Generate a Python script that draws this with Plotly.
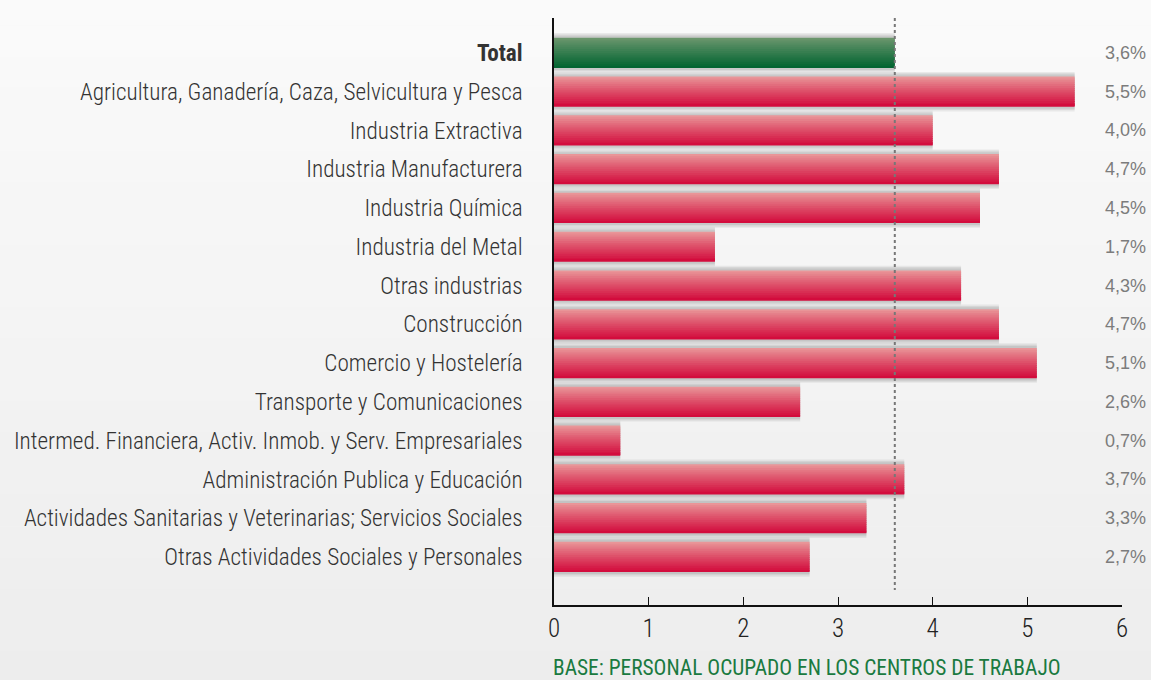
import plotly.graph_objects as go

categories = [
    "Total",
    "Agricultura, Ganadería, Caza, Selvicultura y Pesca",
    "Industria Extractiva",
    "Industria Manufacturera",
    "Industria Química",
    "Industria del Metal",
    "Otras industrias",
    "Construcción",
    "Comercio y Hostelería",
    "Transporte y Comunicaciones",
    "Intermed. Financiera, Activ. Inmob. y Serv. Empresariales",
    "Administración Publica y Educación",
    "Actividades Sanitarias y Veterinarias; Servicios Sociales",
    "Otras Actividades Sociales y Personales",
]
values = [3.6, 5.5, 4.0, 4.7, 4.5, 1.7, 4.3, 4.7, 5.1, 2.6, 0.7, 3.7, 3.3, 2.7]
value_labels = ["3,6%", "5,5%", "4,0%", "4,7%", "4,5%", "1,7%", "4,3%", "4,7%",
                "5,1%", "2,6%", "0,7%", "3,7%", "3,3%", "2,7%"]
total_value = 3.6
x_ticks = [0, 1, 2, 3, 4, 5, 6]
footer = "BASE: PERSONAL OCUPADO EN LOS CENTROS DE TRABAJO"

FONT = "Roboto Condensed, Liberation Sans Narrow, Arial Narrow, sans-serif"
VFONT = "Liberation Sans, Arial, sans-serif"

ypos = list(range(len(categories)))
fig = go.Figure()


def lerp(c1, c2, t):
    return "rgb(%d,%d,%d)" % tuple(round(a + (b - a) * t) for a, b in zip(c1, c2))


red_top, red_bot = (234, 156, 156), (210, 8, 58)
grn_top, grn_bot = (112, 152, 112), (0, 100, 48)

# soft shadow (layered)
for w, a in [(1.02, 0.12), (0.95, 0.14), (0.88, 0.16)]:
    fig.add_trace(go.Bar(
        x=values, y=ypos, orientation="h", width=w,
        marker=dict(color="rgba(120,120,120,%.2f)" % a, line=dict(width=0)),
        hoverinfo="skip", showlegend=False,
    ))

BW = 0.78
N = 16
for k in range(N):
    t = (k + 0.5) / N
    t2 = t ** 0.9
    cols = [lerp(grn_top, grn_bot, t2) if i == 0 else lerp(red_top, red_bot, t2)
            for i in range(len(values))]
    wk = BW / N * (1.6 if k < N - 1 else 1.0)
    fig.add_trace(go.Bar(
        x=values, y=ypos, orientation="h",
        width=wk, offset=-BW / 2 + k * BW / N,
        marker=dict(color=cols, line=dict(width=0)),
        hoverinfo="skip" if k else "x+y", showlegend=False,
    ))

# reference line at total
fig.add_shape(type="line", x0=total_value, x1=total_value, y0=-0.9, y1=13.85,
              xref="x", yref="y", line=dict(color="#777777", width=2, dash="dot"))

# background gradient
NB = 30
for b in range(NB):
    t = b / (NB - 1)
    fig.add_shape(type="rect", xref="paper", yref="paper",
                  x0=-2, x1=2, y0=1.2 - (b + 1) * 1.6 / NB, y1=1.2 - b * 1.6 / NB + 0.001,
                  fillcolor=lerp((252, 252, 252), (234, 234, 234), t),
                  line=dict(width=0), layer="below")

for i, lab in enumerate(value_labels):
    fig.add_annotation(x=1, y=i, xref="paper", yref="y", text=lab, showarrow=False,
                       xanchor="right", yanchor="middle", xshift=26,
                       font=dict(family=VFONT, size=18, color="#7c7c7c"))

fig.add_annotation(x=0, y=-0.107, xref="paper", yref="paper", text=footer,
                   showarrow=False, xanchor="left", yanchor="middle", xshift=-3,
                   font=dict(family=FONT, size=21.4, color="#1a7a40"))

ticktext = ["<b>Total</b>"] + categories[1:]

fig.update_layout(
    width=1151, height=680,
    margin=dict(l=554, r=29, t=18, b=75),
    barmode="overlay",
    paper_bgcolor="#f3f3f3",
    plot_bgcolor="rgba(0,0,0,0)",
    font=dict(family=FONT, color="#222222"),
    showlegend=False,
    xaxis=dict(range=[0, 6], tickvals=x_ticks, ticks="inside", ticklen=8,
               tickcolor="#111111", showline=True, linecolor="#111111", linewidth=1.5,
               showgrid=False, zeroline=False,
               tickfont=dict(size=25, color="#222222", weight=300), fixedrange=True),
    yaxis=dict(range=[14.24, -0.9], tickvals=ypos, ticktext=ticktext, ticks="",
               showline=True, linecolor="#111111", linewidth=1.5, showgrid=False,
               zeroline=False, ticklabelstandoff=25,
               tickfont=dict(size=23.2, color="#333333", weight=300), fixedrange=True),
)

fig.write_html("out.html", config={"displayModeBar": False},
               post_script="document.body.style.margin='0';")
